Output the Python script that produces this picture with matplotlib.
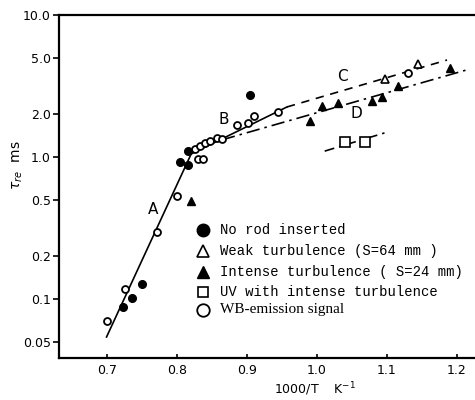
import matplotlib
matplotlib.use("Agg")
import matplotlib.pyplot as plt
from matplotlib.ticker import FixedLocator, NullLocator

# ---- data (1000/T in K^-1, tau_re in ms) ----
no_rod_x = [0.723, 0.736, 0.749, 0.804, 0.816, 0.816, 0.904]
no_rod_y = [0.088, 0.102, 0.128, 0.92, 0.88, 1.10, 2.73]

weak_x = [1.097, 1.144]
weak_y = [3.54, 4.52]

intense_x = [0.820, 0.990, 1.007, 1.030, 1.079, 1.093, 1.116, 1.190]
intense_y = [0.49, 1.79, 2.29, 2.40, 2.48, 2.65, 3.16, 4.24]

uv_x = [1.040, 1.069]
uv_y = [1.28, 1.28]

wb_x = [0.699, 0.726, 0.771, 0.800, 0.830, 0.837, 0.826, 0.833, 0.840, 0.847,
        0.857, 0.864, 0.886, 0.901, 0.910, 0.944, 1.130]
wb_y = [0.070, 0.118, 0.296, 0.53, 0.97, 0.97, 1.14, 1.20, 1.25, 1.30,
        1.36, 1.34, 1.68, 1.74, 1.94, 2.07, 3.90]

lineA_x = [0.699, 0.820]
lineA_y = [0.054, 1.05]
lineB_x = [0.820, 0.957]
lineB_y = [1.05, 2.25]
lineC_x = [0.957, 1.186]
lineC_y = [2.25, 4.82]
lineD_x = [0.864, 1.219]
lineD_y = [1.32, 4.17]
lineUV_x = [1.011, 1.101]
lineUV_y = [1.10, 1.50]

yticks = [0.05, 0.1, 0.2, 0.5, 1.0, 2.0, 5.0, 10.0]
ytick_labels = ["0.05", "0.1", "0.2", "0.5", "1.0", "2.0", "5.0", "10.0"]
xticks = [0.7, 0.8, 0.9, 1.0, 1.1, 1.2]
xtick_labels = ["0.7", "0.8", "0.9", "1.0", "1.1", "1.2"]

legend_labels = ["No rod inserted", "Weak turbulence (S=64 mm )",
                 "Intense turbulence ( S=24 mm)", "UV with intense turbulence",
                 "WB-emission signal"]

W, H = 475, 400
fig = plt.figure(figsize=(W / 100, H / 100), dpi=100)
ax = fig.add_axes([59 / W, 1 - 358 / H, 1 - 59 / W, (358 - 15) / H])
ax.set_yscale("log")
ax.set_xlim(0.631, 1.226)
ax.set_ylim(0.0384, 10.0)

k = "black"
ax.plot(lineA_x, lineA_y, color=k, lw=1.2)
ax.plot(lineB_x, lineB_y, color=k, lw=1.2)
ax.plot(lineC_x, lineC_y, color=k, lw=1.2, linestyle=(0, (5, 4)))
ax.plot(lineD_x, lineD_y, color=k, lw=1.2, linestyle=(0, (8, 3, 1.5, 3)))
ax.plot(lineUV_x, lineUV_y, color=k, lw=1.2, linestyle=(0, (6, 3, 1.5, 3)))

ax.plot(no_rod_x, no_rod_y, "o", color=k, ms=5.5, ls="none")
ax.plot(wb_x, wb_y, "o", mfc="white", mec=k, mew=1.3, ms=5, ls="none")
ax.plot(weak_x, weak_y, "^", mfc="white", mec=k, mew=1.2, ms=6, ls="none")
ax.plot(intense_x, intense_y, "^", color=k, ms=6, ls="none")
ax.plot(uv_x, uv_y, "s", mfc="white", mec=k, mew=1.2, ms=6.5, ls="none")

for lab, xx, yy in [("A", 0.766, 0.43), ("B", 0.866, 1.85), ("C", 1.037, 3.66), ("D", 1.056, 2.04)]:
    ax.text(xx, yy, lab, fontsize=11, ha="center", va="center", family="DejaVu Sans")

ax.yaxis.set_major_locator(FixedLocator(yticks))
ax.yaxis.set_minor_locator(NullLocator())
ax.set_yticklabels(ytick_labels)
ax.set_xticks(xticks)
ax.set_xticklabels(xtick_labels)
ax.tick_params(axis="y", direction="out", length=4, width=1.2, labelsize=9, pad=2)
ax.tick_params(axis="x", direction="in", length=3, width=1.2, labelsize=9, pad=4)
for s in ["left", "bottom", "top"]:
    ax.spines[s].set_linewidth(1.6)
ax.spines["right"].set_visible(False)

# axis labels
fig.text(18 / W, 1 - 165 / H, r"$\tau_{re}$  ms", rotation=90, ha="center", va="center", fontsize=10)
fig.text(315 / W, 1 - 389 / H, r"1000/T    K$^{-1}$", ha="center", va="center", fontsize=9)

# legend drawn manually
leg_y = [230, 251, 272, 292, 310]
leg_marker = [dict(marker="o", color=k, ms=9),
              dict(marker="^", mfc="white", mec=k, mew=1.2, ms=8),
              dict(marker="^", color=k, ms=8),
              dict(marker="s", mfc="white", mec=k, mew=1.2, ms=7.5),
              dict(marker="o", mfc="white", mec=k, mew=1.3, ms=9)]
for i, (lab, py) in enumerate(zip(legend_labels, leg_y)):
    fig.lines.append(matplotlib.lines.Line2D([203 / W], [1 - py / H], transform=fig.transFigure,
                                             ls="none", **leg_marker[i]))
    fam = "Liberation Serif" if i == 4 else "Liberation Mono"
    fs = 11 if i == 4 else 10
    fig.text(220 / W, 1 - py / H, lab, ha="left", va="center", fontsize=fs, family=fam)

fig.savefig("out.png", dpi=100)
